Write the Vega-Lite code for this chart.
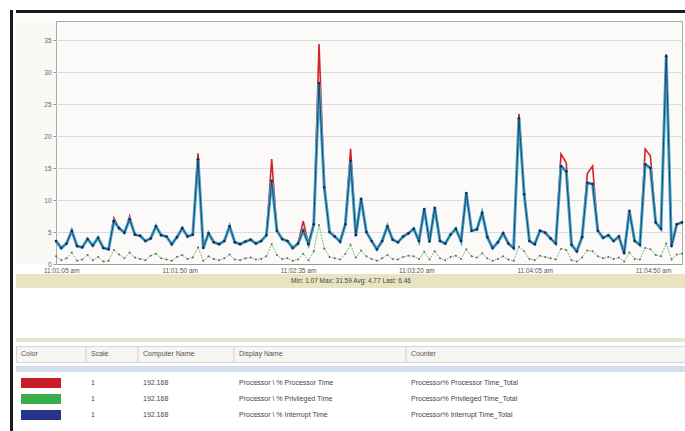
{
  "$schema": "https://vega.github.io/schema/vega-lite/v6.json",
  "background": "white",
  "padding": {"left": 10, "top": 10, "right": 0, "bottom": 0},
  "spacing": 2,
  "config": {
    "font": "Liberation Sans",
    "view": {"stroke": null},
    "axisY": {"labelFontSize": 6.5, "labelColor": "#666666", "tickSize": 3, "tickColor": "#999999", "domainColor": "#999999", "gridColor": "#dcdcdc", "labelPadding": 2, "labelOverlap": false},
    "axisX": {"grid": false, "ticks": false, "labelFontSize": 6.5, "labelColor": "#555555", "labelPadding": 3, "domainColor": "#999999", "labelFlush": false}
  },
  "datasets": {
    "perf": [
      {"t":63,"proc":3.6,"priv":1.2,"intr":3.6},{"t":65,"proc":2.5,"priv":0.6,"intr":2.5},{"t":67,"proc":3.2,"priv":0.9,"intr":3.2},{"t":69,"proc":5.2,"priv":1.8,"intr":5.2},{"t":71,"proc":2.8,"priv":0.5,"intr":2.8},
      {"t":73,"proc":2.6,"priv":0.7,"intr":2.6},{"t":75,"proc":3.9,"priv":1.4,"intr":3.9},{"t":77,"proc":2.9,"priv":0.6,"intr":2.9},{"t":79,"proc":4.1,"priv":1.1,"intr":4.1},{"t":81,"proc":2.5,"priv":0.4,"intr":2.5},
      {"t":83,"proc":2.3,"priv":0.5,"intr":2.3},{"t":85,"proc":7.2,"priv":2.2,"intr":6.7},{"t":87,"proc":5.6,"priv":1.5,"intr":5.6},{"t":89,"proc":4.9,"priv":0.9,"intr":4.9},{"t":91,"proc":7.5,"priv":1.8,"intr":7.0},
      {"t":93,"proc":4.6,"priv":1.0,"intr":4.6},{"t":95,"proc":4.4,"priv":0.8,"intr":4.4},{"t":97,"proc":3.6,"priv":0.6,"intr":3.6},{"t":99,"proc":4.0,"priv":1.3,"intr":4.0},{"t":101,"proc":5.9,"priv":1.6,"intr":5.9},
      {"t":103,"proc":4.5,"priv":0.9,"intr":4.5},{"t":105,"proc":4.3,"priv":0.7,"intr":4.3},{"t":107,"proc":3.1,"priv":0.5,"intr":3.1},{"t":109,"proc":4.2,"priv":1.1,"intr":4.2},{"t":111,"proc":5.6,"priv":1.4,"intr":5.6},
      {"t":113,"proc":4.3,"priv":0.8,"intr":4.3},{"t":115,"proc":4.6,"priv":1.0,"intr":4.6},{"t":117,"proc":17.3,"priv":2.6,"intr":16.4},{"t":119,"proc":2.5,"priv":0.5,"intr":2.5},{"t":121,"proc":4.8,"priv":1.2,"intr":4.8},
      {"t":123,"proc":3.4,"priv":0.8,"intr":3.4},{"t":125,"proc":3.1,"priv":0.6,"intr":3.1},{"t":127,"proc":3.6,"priv":0.9,"intr":3.6},{"t":129,"proc":5.9,"priv":1.5,"intr":5.9},{"t":131,"proc":3.4,"priv":0.7,"intr":3.4},
      {"t":133,"proc":3.1,"priv":0.6,"intr":3.1},{"t":135,"proc":3.5,"priv":0.9,"intr":3.5},{"t":137,"proc":3.8,"priv":1.0,"intr":3.8},{"t":139,"proc":3.2,"priv":0.7,"intr":3.2},{"t":141,"proc":3.6,"priv":0.8,"intr":3.6},
      {"t":143,"proc":4.5,"priv":1.2,"intr":4.5},{"t":145,"proc":16.4,"priv":3.1,"intr":13.0},{"t":147,"proc":5.2,"priv":1.4,"intr":5.2},{"t":149,"proc":3.9,"priv":0.8,"intr":3.9},{"t":151,"proc":3.6,"priv":0.9,"intr":3.6},
      {"t":153,"proc":2.5,"priv":0.5,"intr":2.5},{"t":155,"proc":3.2,"priv":0.7,"intr":3.2},{"t":157,"proc":6.7,"priv":1.6,"intr":5.2},{"t":159,"proc":3.1,"priv":0.6,"intr":3.1},{"t":161,"proc":6.2,"priv":2.0,"intr":6.2},
      {"t":163,"proc":34.4,"priv":6.1,"intr":28.3},{"t":165,"proc":12.0,"priv":2.4,"intr":12.0},{"t":167,"proc":5.0,"priv":1.1,"intr":5.0},{"t":169,"proc":4.3,"priv":0.9,"intr":4.3},{"t":171,"proc":3.5,"priv":0.7,"intr":3.5},
      {"t":173,"proc":6.2,"priv":1.6,"intr":6.2},{"t":175,"proc":18.0,"priv":3.0,"intr":16.1},{"t":177,"proc":4.5,"priv":1.0,"intr":4.5},{"t":179,"proc":10.2,"priv":2.1,"intr":10.2},{"t":181,"proc":5.0,"priv":1.2,"intr":5.0},
      {"t":183,"proc":3.6,"priv":0.8,"intr":3.6},{"t":185,"proc":2.3,"priv":0.5,"intr":2.3},{"t":187,"proc":3.6,"priv":0.9,"intr":3.6},{"t":189,"proc":5.9,"priv":1.4,"intr":5.9},{"t":191,"proc":3.8,"priv":0.8,"intr":3.8},
      {"t":193,"proc":3.4,"priv":0.7,"intr":3.4},{"t":195,"proc":4.3,"priv":1.1,"intr":4.3},{"t":197,"proc":4.8,"priv":1.3,"intr":4.8},{"t":199,"proc":5.5,"priv":1.2,"intr":5.5},{"t":201,"proc":3.6,"priv":0.8,"intr":3.6},
      {"t":203,"proc":8.6,"priv":1.9,"intr":8.6},{"t":205,"proc":3.5,"priv":0.7,"intr":3.5},{"t":207,"proc":8.8,"priv":2.0,"intr":8.8},{"t":209,"proc":3.6,"priv":0.9,"intr":3.6},{"t":211,"proc":3.2,"priv":0.6,"intr":3.2},
      {"t":213,"proc":4.6,"priv":1.1,"intr":4.6},{"t":215,"proc":5.5,"priv":1.3,"intr":5.5},{"t":217,"proc":3.6,"priv":0.8,"intr":3.6},{"t":219,"proc":11.1,"priv":2.3,"intr":11.1},{"t":221,"proc":5.2,"priv":1.2,"intr":5.2},
      {"t":223,"proc":5.4,"priv":1.0,"intr":5.4},{"t":225,"proc":8.0,"priv":1.7,"intr":8.0},{"t":227,"proc":4.2,"priv":0.9,"intr":4.2},{"t":229,"proc":2.5,"priv":0.5,"intr":2.5},{"t":231,"proc":3.4,"priv":0.8,"intr":3.4},
      {"t":233,"proc":4.8,"priv":1.2,"intr":4.8},{"t":235,"proc":3.2,"priv":0.7,"intr":3.2},{"t":237,"proc":2.5,"priv":0.5,"intr":2.5},{"t":239,"proc":23.5,"priv":2.7,"intr":22.8},{"t":241,"proc":10.9,"priv":2.0,"intr":10.9},
      {"t":243,"proc":3.6,"priv":0.8,"intr":3.6},{"t":245,"proc":3.1,"priv":0.6,"intr":3.1},{"t":247,"proc":5.2,"priv":1.3,"intr":5.2},{"t":249,"proc":4.9,"priv":1.1,"intr":4.9},{"t":251,"proc":4.0,"priv":0.9,"intr":4.0},
      {"t":253,"proc":3.2,"priv":0.7,"intr":3.2},{"t":255,"proc":17.2,"priv":2.4,"intr":15.3},{"t":257,"proc":15.8,"priv":2.2,"intr":14.5},{"t":259,"proc":3.0,"priv":0.6,"intr":3.0},{"t":261,"proc":2.0,"priv":0.4,"intr":2.0},
      {"t":263,"proc":4.2,"priv":1.0,"intr":4.2},{"t":265,"proc":14.1,"priv":2.1,"intr":12.7},{"t":267,"proc":15.3,"priv":2.0,"intr":12.5},{"t":269,"proc":5.2,"priv":1.2,"intr":5.2},{"t":271,"proc":4.1,"priv":0.9,"intr":4.1},
      {"t":273,"proc":4.5,"priv":1.1,"intr":4.5},{"t":275,"proc":3.6,"priv":0.8,"intr":3.6},{"t":277,"proc":4.3,"priv":1.0,"intr":4.3},{"t":279,"proc":1.7,"priv":0.4,"intr":1.7},{"t":281,"proc":8.3,"priv":1.8,"intr":8.3},
      {"t":283,"proc":3.6,"priv":0.8,"intr":3.6},{"t":285,"proc":3.0,"priv":0.7,"intr":3.0},{"t":287,"proc":18.0,"priv":2.5,"intr":15.6},{"t":289,"proc":16.9,"priv":2.3,"intr":15.0},{"t":291,"proc":6.5,"priv":1.4,"intr":6.5},
      {"t":293,"proc":5.5,"priv":1.2,"intr":5.5},{"t":295,"proc":32.8,"priv":3.2,"intr":32.5},{"t":297,"proc":2.8,"priv":0.7,"intr":2.8},{"t":299,"proc":6.2,"priv":1.5,"intr":6.2},{"t":301,"proc":6.5,"priv":1.6,"intr":6.5}
    ],
    "legend": [
      {"row": 1, "name": "% Processor Time", "scale": "1", "computer": "192.168", "display": "Processor \\ % Processor Time", "counter": "Processor% Processor Time_Total"},
      {"row": 2, "name": "% Privileged Time", "scale": "1", "computer": "192.168", "display": "Processor \\ % Privileged Time", "counter": "Processor% Privileged Time_Total"},
      {"row": 3, "name": "% Interrupt Time", "scale": "1", "computer": "192.168", "display": "Processor \\ % Interrupt Time", "counter": "Processor% Interrupt Time_Total"}
    ],
    "header": [
      {"col": 0, "name": "Color"},
      {"col": 1, "name": "Scale"},
      {"col": 2, "name": "Computer Name"},
      {"col": 3, "name": "Display Name"},
      {"col": 4, "name": "Counter"}
    ],
    "stats": [{"text": "Min: 1.07     Max: 31.59     Avg: 4.77     Last: 6.46"}]
  },
  "hconcat": [
    {"width": 3, "height": 421, "view": {"fill": "#1c1c1c", "stroke": null}, "data": {"values": []}, "mark": "point"},
    {
      "spacing": 7,
      "vconcat": [
        {"width": 670, "height": 3, "view": {"fill": "#1c1c1c", "stroke": null}, "data": {"values": []}, "mark": "point"},
        {
          "spacing": 50,
          "vconcat": [
            {
              "spacing": 0,
              "vconcat": [
                {
                  "spacing": 0,
                  "bounds": "flush",
                  "hconcat": [
                    {
                      "width": 40, "height": 243,
                      "view": {"fill": "#faf9f6", "stroke": null},
                      "data": {"values": []},
                      "mark": "point",
                      "encoding": {
                        "y": {"field": "v", "type": "quantitative", "title": null,
                              "scale": {"domain": [0, 38], "nice": false},
                              "axis": {"values": [0, 5, 10, 15, 20, 25, 30, 35], "offset": -40, "grid": false}}
                      }
                    },
                    {
                      "width": 626,
                      "height": 243,
                      "view": {"fill": "#fbfaf8", "stroke": "#a9a9a9"},
                      "data": {"name": "perf"},
                      "encoding": {
                        "x": {
                          "field": "t", "type": "quantitative", "title": null,
                          "scale": {"domain": [63, 301], "nice": false, "zero": false},
                          "axis": {"values": [65, 110, 155, 200, 245, 290], "labelExpr": "'11:' + (floor(datum.value/60) < 10 ? '0' : '') + floor(datum.value/60) + ':' + (datum.value % 60 < 10 ? '0' : '') + (datum.value % 60) + ' am'"}
                        }
                      },
                      "layer": [
                        {"mark": {"type": "line", "color": "#d2232a", "strokeWidth": 1.6},
                         "encoding": {"y": {"field": "proc", "type": "quantitative", "title": null, "scale": {"domain": [0, 38], "nice": false}, "axis": {"values": [0, 5, 10, 15, 20, 25, 30, 35], "labels": false, "ticks": false, "domain": false, "minExtent": 0, "maxExtent": 0, "labelPadding": 0}}}},
                        {"mark": {"type": "line", "color": "#79c07a", "strokeWidth": 1, "strokeDash": [2, 1]},
                         "encoding": {"y": {"field": "priv", "type": "quantitative", "title": null, "axis": {"values": [0, 5, 10, 15, 20, 25, 30, 35], "labels": false, "ticks": false, "domain": false, "minExtent": 0, "maxExtent": 0, "labelPadding": 0}}}},
                        {"mark": {"type": "point", "filled": true, "color": "#333333", "size": 4},
                         "encoding": {"y": {"field": "priv", "type": "quantitative", "title": null, "axis": {"values": [0, 5, 10, 15, 20, 25, 30, 35], "labels": false, "ticks": false, "domain": false, "minExtent": 0, "maxExtent": 0, "labelPadding": 0}}}},
                        {"mark": {"type": "line", "color": "#44a9d6", "strokeWidth": 3},
                         "encoding": {"y": {"field": "intr", "type": "quantitative", "title": null, "axis": {"values": [0, 5, 10, 15, 20, 25, 30, 35], "labels": false, "ticks": false, "domain": false, "minExtent": 0, "maxExtent": 0, "labelPadding": 0}}}},
                        {"mark": {"type": "line", "color": "#1f2a44", "strokeWidth": 0.8, "point": {"filled": true, "size": 7, "color": "#1f2a44"}},
                         "encoding": {"y": {"field": "intr", "type": "quantitative", "title": null, "axis": {"values": [0, 5, 10, 15, 20, 25, 30, 35], "labels": false, "ticks": false, "domain": false, "minExtent": 0, "maxExtent": 0, "labelPadding": 0}}}}
                      ]
                    }
                  ]
                },
                {
                  "width": 670, "height": 14,
                  "view": {"fill": "#e8e4c2", "stroke": null},
                  "data": {"name": "stats"},
                  "mark": {"type": "text", "fontSize": 6.5, "color": "#444444"},
                  "encoding": {"text": {"field": "text"}}
                }
              ]
            },
            {
              "spacing": 3,
              "vconcat": [
                {"width": 670, "height": 4, "view": {"fill": "#e9e6cf", "stroke": null}, "data": {"values": []}, "mark": "point"},
                {
                  "width": 670, "height": 16,
                  "view": {"fill": "#f5f5f3", "stroke": "#d6d6d6"},
                  "data": {"name": "header"},
                  "layer": [
                    {"mark": {"type": "rule", "color": "#d0d0d0", "xOffset": -5},
                     "transform": [{"filter": "datum.col > 0"}],
                     "encoding": {"x": {"field": "col", "type": "quantitative", "axis": null, "scale": {"domain": [0, 1, 2, 3, 4], "range": [5, 75, 127, 223, 395], "nice": false, "zero": false}}}},
                    {"mark": {"type": "text", "align": "left", "fontSize": 7, "color": "#555555"},
                     "encoding": {"x": {"field": "col", "type": "quantitative", "axis": null}, "text": {"field": "name"}}}
                  ]
                },
                {"width": 670, "height": 6, "view": {"fill": "#d3deed", "stroke": null}, "data": {"values": []}, "mark": "point"},
                {
                  "width": 670, "height": 48,
                  "data": {"name": "legend"},
                  "encoding": {
                    "y": {"field": "row", "type": "ordinal", "axis": null, "scale": {"paddingInner": 0, "paddingOuter": 0}}
                  },
                  "layer": [
                    {"mark": {"type": "tick", "orient": "horizontal", "size": 40, "thickness": 10, "xOffset": 20, "opacity": 1},
                     "encoding": {
                       "x": {"datum": 0, "type": "quantitative", "axis": null, "scale": {"domain": [0, 1, 2, 3, 4], "range": [5, 75, 127, 223, 395], "nice": false, "zero": false}},
                       "color": {"field": "name", "type": "nominal", "legend": null, "scale": {"domain": ["% Processor Time", "% Privileged Time", "% Interrupt Time"], "range": ["#c81e28", "#3aae4a", "#26348c"]}}
                     }},
                    {"mark": {"type": "text", "align": "left", "fontSize": 7, "color": "#444444"},
                     "encoding": {"x": {"datum": 1, "type": "quantitative"}, "text": {"field": "scale"}}},
                    {"mark": {"type": "text", "align": "left", "fontSize": 7, "color": "#444444"},
                     "encoding": {"x": {"datum": 2, "type": "quantitative"}, "text": {"field": "computer"}}},
                    {"mark": {"type": "text", "align": "left", "fontSize": 7, "color": "#444444"},
                     "encoding": {"x": {"datum": 3, "type": "quantitative"}, "text": {"field": "display"}}},
                    {"mark": {"type": "text", "align": "left", "fontSize": 7, "color": "#444444"},
                     "encoding": {"x": {"datum": 4, "type": "quantitative"}, "text": {"field": "counter"}}}
                  ]
                }
              ]
            }
          ]
        }
      ]
    }
  ]
}
